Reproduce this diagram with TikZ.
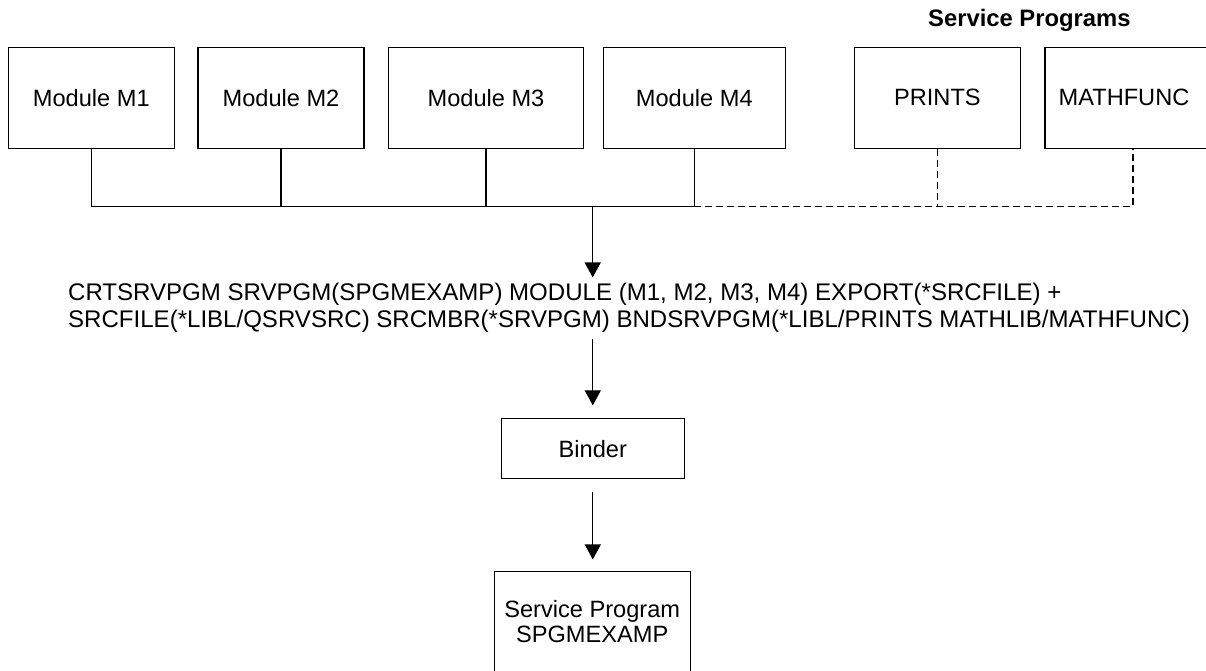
\documentclass[tikz,border=0pt]{standalone}
\usepackage{fontspec}
\setmainfont{Liberation Sans}
\usetikzlibrary{arrows.meta}
\begin{document}
\begin{tikzpicture}[x=1pt,y=-1pt,
  box/.style={draw, line width=1.1pt, inner sep=0pt, align=center,
    font=\fontsize{23.6}{25}\selectfont},
  conn/.style={line width=1.1pt},
  dconn/.style={line width=1.1pt, dash pattern=on 7pt off 4pt},
  arr/.style={line width=1.1pt, -{Triangle[width=16pt,length=15pt]}}]
\clip (0,0) rectangle (1206,670);
\fill[white] (0,0) rectangle (1206,670);
% modules
\node[box, minimum width=166pt, minimum height=101pt] (m1) at (91.3,97.8) {Module M1};
\node[box, minimum width=166pt, minimum height=101pt] (m2) at (281,97.8) {Module M2};
\node[box, minimum width=195pt, minimum height=101pt] (m3) at (486,97.8) {Module M3};
\node[box, minimum width=182.5pt, minimum height=101pt] (m4) at (694.3,97.8) {Module M4};
\node[box, minimum width=166pt, minimum height=101pt] (pr) at (937.4,97.8) {PRINTS};
\node[box, minimum width=176pt, minimum height=101pt] (mf) at (1133,97.8) {MATHFUNC\hspace*{18pt}};
\node[anchor=base, inner sep=0pt, font=\fontsize{23.8}{25}\selectfont\bfseries] (sp) at (1029.4,26.7) {Service Programs};
% bus
\coordinate (busy) at (0,206.7);
\draw[conn] (m1.south) -- (m1.south |- busy) -- (m4.south |- busy) -- (m4.south);
\draw[conn] (m2.south) -- (m2.south |- busy);
\draw[conn] (m3.south) -- (m3.south |- busy);
\draw[dconn] (m4.south |- busy) -- (mf.south |- busy) -- (mf.south);
\draw[dconn] (pr.south) -- (pr.south |- busy);
% command
\node[anchor=west, inner sep=0pt, align=left, font=\fontsize{24.05}{27.3}\selectfont] (cmd) at (68,307.5)
 {CRTSRVPGM SRVPGM(SPGMEXAMP) MODULE (M1, M2, M3, M4) EXPORT(*SRCFILE) +\\
  SRCFILE(*LIBL/QSRVSRC) SRCMBR(*SRVPGM) BNDSRVPGM(*LIBL/PRINTS MATHLIB/MATHFUNC)};
\coordinate (a0) at (592.7,206.7);
\draw[arr, shorten >=5pt] (a0) -- (a0 |- cmd.north);
% binder
\node[box, minimum width=183pt, minimum height=59.6pt] (bd) at (592.8,448.7) {Binder};
\node[box, minimum width=195.7pt, minimum height=101pt] (sv) at (592.2,621.8) {Service Program\\SPGMEXAMP};
\draw[arr, shorten <=6pt, shorten >=13pt] (bd.north |- cmd.south) -- (bd.north);
\draw[arr, shorten <=12.7pt, shorten >=11.3pt] (bd.south) -- (bd.south |- sv.north);
\end{tikzpicture}
\end{document}
